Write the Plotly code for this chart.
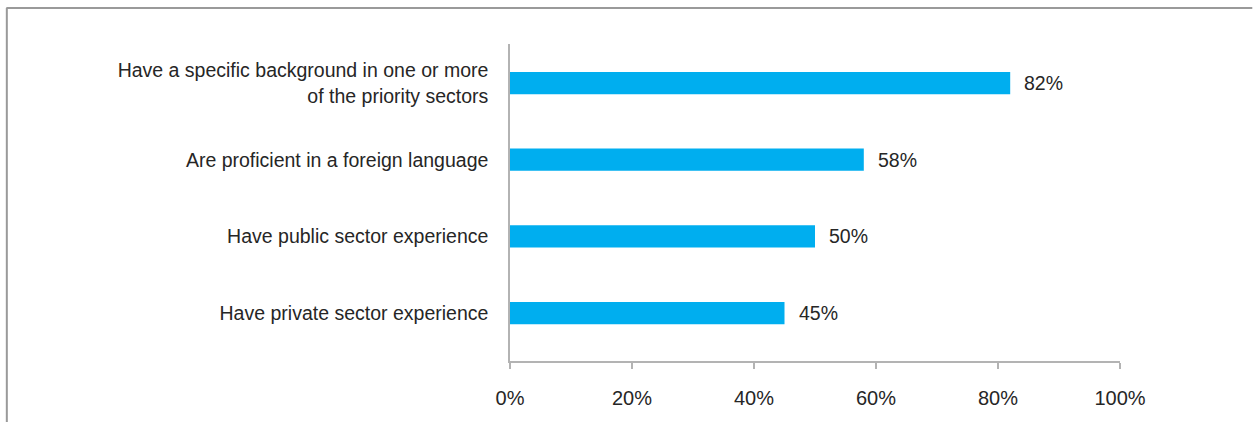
import plotly.graph_objects as go

# Share of respondents by attribute
categories = [
    "Have a specific background in one or more<br>of the priority sectors",
    "Are proficient in a foreign language",
    "Have public sector experience",
    "Have private sector experience",
]
values = [82, 58, 50, 45]
x_ticks = [0, 20, 40, 60, 80, 100]
x_tick_labels = ["0%", "20%", "40%", "60%", "80%", "100%"]

W, H = 1253, 422
M_L, M_R, M_T, M_B = 509.5, 132.5, 44, 61
FONT = "Liberation Sans Narrow, Arial Narrow, Liberation Sans, Arial, sans-serif"
TEXT = "#262626"
AXIS = "#b3b3b3"
BAR = "#00aeef"

fig = go.Figure()
fig.add_trace(go.Bar(
    x=values,
    y=categories,
    orientation="h",
    marker=dict(color=BAR, line=dict(width=0)),
    width=0.29,
    hoverinfo="skip",
))

# value labels to the right of each bar
for v, c in zip(values, categories):
    fig.add_annotation(
        x=v, y=c, xref="x", yref="y",
        text=f"{v}%", showarrow=False,
        xanchor="left", yanchor="middle", xshift=12,
        font=dict(family=FONT, size=19.5, color=TEXT),
    )

pw = W - M_L - M_R
ph = H - M_T - M_B

def px_x(p):
    return (p - M_L) / pw

def px_y(p):
    return (H - M_B - p) / ph

# outer frame: top and left edges
frame = dict(color="#9a9a9a", width=2)
fig.add_shape(type="line", xref="paper", yref="paper",
              x0=px_x(5), x1=px_x(W), y0=px_y(8), y1=px_y(8), line=frame)
fig.add_shape(type="line", xref="paper", yref="paper",
              x0=px_x(5.5), x1=px_x(5.5), y0=px_y(8), y1=px_y(H), line=frame)

fig.update_layout(
    width=W, height=H,
    margin=dict(l=M_L, r=M_R, t=M_T, b=M_B, pad=0),
    paper_bgcolor="white", plot_bgcolor="white",
    showlegend=False,
    font=dict(family=FONT, size=19.5, color=TEXT),
    xaxis=dict(
        range=[0, 100], tickvals=x_ticks, ticktext=x_tick_labels,
        showgrid=False, zeroline=False,
        showline=True, linecolor=AXIS, linewidth=1.5,
        ticks="outside", ticklen=6, tickcolor=AXIS, tickwidth=1.5,
        ticklabelstandoff=12,
        tickfont=dict(family=FONT, size=20, color=TEXT),
    ),
    yaxis=dict(
        type="category", categoryorder="array", categoryarray=categories,
        range=[3.626, -0.509],
        showgrid=False, zeroline=False,
        showline=True, linecolor=AXIS, linewidth=1.5,
        ticks="", ticklabelstandoff=16,
        tickfont=dict(family=FONT, size=19.5, color=TEXT),
    ),
)

fig.write_html("out.html")
